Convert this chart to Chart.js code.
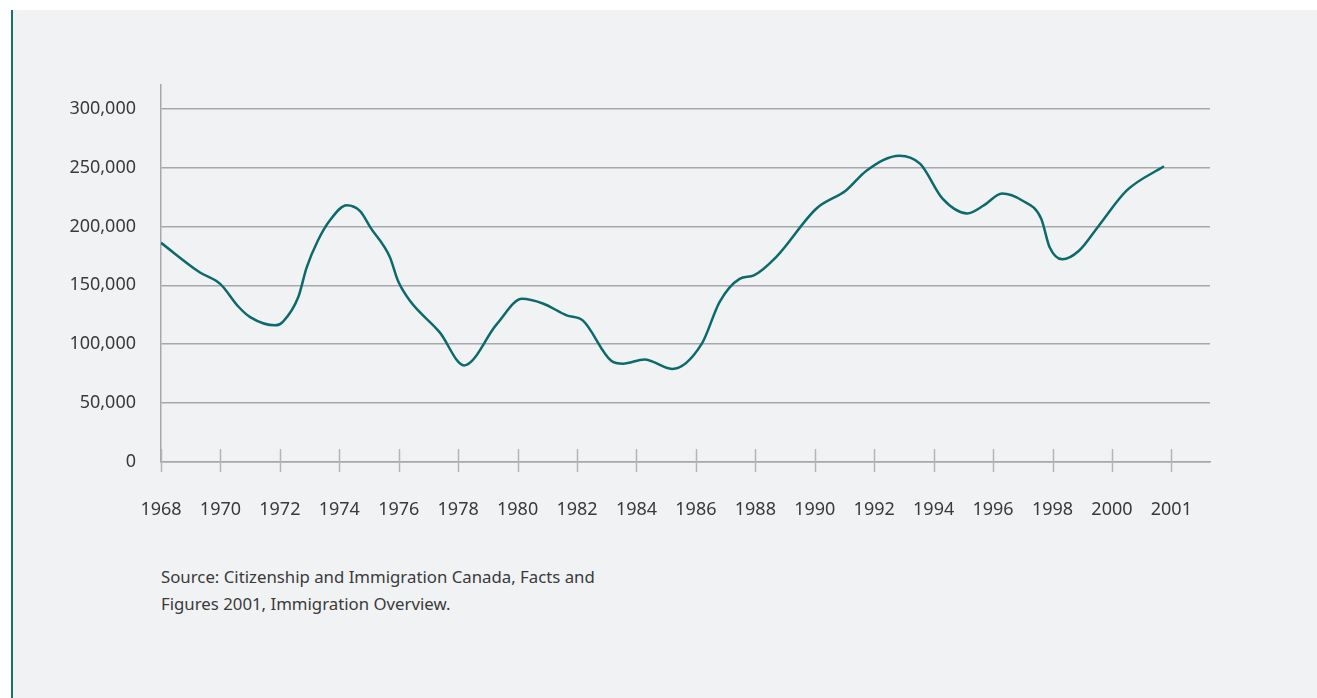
<!DOCTYPE html>
<html>
<head>
<meta charset="utf-8">
<title>Immigration to Canada, 1968-2001</title>
<script src="https://cdn.jsdelivr.net/npm/chart.js"></script>
<style>
    html, body { margin: 0; padding: 0; background: #ffffff; }
    body { width: 1317px; height: 698px; position: relative; overflow: hidden; }
    #panel {
        position: absolute; left: 11px; top: 10px; width: 1306px; height: 688px;
        background: #f1f2f4; border-left: 2px solid #1f6f69; box-sizing: border-box;
    }
    #chart { position: absolute; left: 0; top: 0; }
    #source {
        position: absolute; left: 161px; top: 563px;
        font-family: "Noto Sans", sans-serif; font-size: 16.8px; line-height: 27px;
        color: #3a3a3a;
    }
</style>
</head>
<body>
<div id="panel"></div>
<canvas id="chart" width="1317" height="540"></canvas>
<div id="source">Source: Citizenship and Immigration Canada, Facts and<br>Figures 2001, Immigration Overview.</div>
<script>
// values (year position, number of immigrants)
const years = [1968, 1969.3, 1970, 1970.6, 1971, 1971.85, 1972.1, 1972.62, 1972.9, 1973.28,
    1973.68, 1974.25, 1974.7, 1975.05, 1975.7, 1975.97, 1976.37, 1977.38, 1978.2, 1979.3,
    1980.15, 1980.85, 1981.65, 1982.2, 1983.15, 1983.55, 1984.27, 1985.2, 1986.2, 1986.8,
    1987.47, 1987.95, 1988.7, 1990.05, 1991.05, 1991.75, 1992.85, 1993.55, 1994.3, 1995.13,
    1995.7, 1996.3, 1996.98, 1997.62, 1997.9, 1998.33, 1998.9, 1999.57, 2000.5, 2001.75];
const immigrants = [186000, 161000, 151000, 132000, 123000, 116000, 119000, 140000, 165000, 188000,
    205000, 218000, 213000, 199000, 174000, 154000, 137000, 110000, 82000, 117000,
    138500, 134500, 124500, 120000, 86000, 83500, 87000, 79000, 100500, 136000,
    155500, 158500, 174000, 215000, 230500, 247500, 260000, 253000, 223500, 211000,
    218000, 228000, 222000, 206500, 182500, 172000, 179500, 201000, 230500, 251000];

const xTickYears = [1968, 1970, 1972, 1974, 1976, 1978, 1980, 1982, 1984, 1986, 1988, 1990, 1992, 1994, 1996, 1998, 2000, 2002];
const xTickLabels = ['1968', '1970', '1972', '1974', '1976', '1978', '1980', '1982', '1984', '1986', '1988', '1990', '1992', '1994', '1996', '1998', '2000', '2001'];
const yTicks = [0, 50000, 100000, 150000, 200000, 250000, 300000];

const axisGray = '#a7a8ab';
const textColor = '#3a3a3a';

// tick marks on the x axis cross the axis line (above and below)
const crossTicks = {
    id: 'crossTicks',
    afterDraw(chart) {
        const xs = chart.scales.x;
        const y0 = chart.chartArea.bottom;
        const ctx = chart.ctx;
        ctx.save();
        ctx.strokeStyle = '#b3b4b7';
        ctx.lineWidth = 1.5;
        xs.ticks.forEach(t => {
            const px = Math.round(xs.getPixelForValue(t.value)) + 0.5;
            ctx.beginPath();
            ctx.moveTo(px, y0 - 13);
            ctx.lineTo(px, y0 + 10);
            ctx.stroke();
        });
        ctx.restore();
    }
};

new Chart(document.getElementById('chart'), {
    type: 'line',
    data: {
        datasets: [{
            data: years.map((y, i) => ({ x: y, y: immigrants[i] })),
            borderColor: '#0d6a6c',
            borderWidth: 2.5,
            pointRadius: 0,
            cubicInterpolationMode: 'monotone',
            fill: false
        }]
    },
    options: {
        responsive: false,
        animation: false,
        layout: { padding: { top: 85, right: 107, left: 0, bottom: 0 } },
        plugins: { legend: { display: false }, tooltip: { enabled: false } },
        scales: {
            x: {
                type: 'linear',
                min: 1968,
                max: 2003.3,
                afterBuildTicks: s => { s.ticks = xTickYears.map(v => ({ value: v })); },
                afterFit: s => { s.height = 78; },
                grid: { display: false, drawTicks: false },
                border: { color: axisGray, width: 1.5 },
                ticks: {
                    autoSkip: false,
                    maxRotation: 0,
                    padding: 37,
                    color: textColor,
                    font: { family: 'Noto Sans', size: 18 },
                    callback: v => xTickLabels[xTickYears.indexOf(v)]
                }
            },
            y: {
                min: 0,
                max: 320000,
                afterBuildTicks: s => { s.ticks = yTicks.map(v => ({ value: v })); },
                afterFit: s => { s.width = 161; },
                grid: { color: axisGray, lineWidth: 1.5, drawTicks: false },
                border: { color: axisGray, width: 1.5 },
                ticks: {
                    padding: 25,
                    color: textColor,
                    font: { family: 'Noto Sans', size: 18 },
                    callback: v => v.toLocaleString('en-US')
                }
            }
        }
    },
    plugins: [crossTicks]
});
</script>
</body>
</html>
